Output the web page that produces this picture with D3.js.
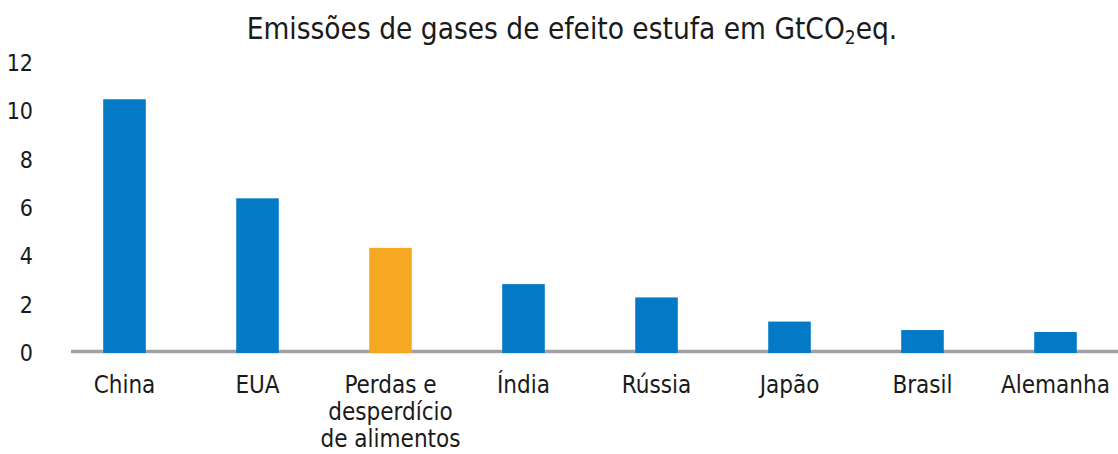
<!DOCTYPE html>
<html>
<head>
<meta charset="utf-8">
<script src="https://cdn.jsdelivr.net/npm/d3@7"></script>
<style>
  body { margin: 0; background: #fff; }
  text { font-family: "DejaVu Sans Condensed", "Liberation Sans Narrow", sans-serif; fill: #1a1a1a; }
</style>
</head>
<body>
<div id="chartContainer"></div>
<script>
var categories = ["China", "EUA", "Perdas e|desperdício|de alimentos", "Índia", "Rússia", "Japão", "Brasil", "Alemanha"];
var values = [10.5, 6.4, 4.35, 2.85, 2.3, 1.3, 0.95, 0.87];
var highlight = [false, false, true, false, false, false, false, false];
var yTicks = [0, 2, 4, 6, 8, 10, 12];

function drawChart() {
  var W = 1118, H = 454;
  var svg = d3.select("#chartContainer")
    .append("svg")
    .attr("width", W)
    .attr("height", H);

  var x = d3.scaleBand()
    .domain(categories)
    .range([58, 1122])
    .paddingInner(0.68)
    .paddingOuter(0.34);

  var y = d3.scaleLinear()
    .domain([0, 12])
    .range([353, 63]);

  // title
  var title = svg.append("text")
    .attr("x", 572)
    .attr("y", 39)
    .attr("text-anchor", "middle")
    .attr("font-size", "29.5px");
  title.append("tspan").text("Emissões de gases de efeito estufa em GtCO");
  title.append("tspan").attr("font-size", "19px").attr("dy", 5).text("2");
  title.append("tspan").attr("dy", -5).text("eq.");

  // y tick labels (no axis line)
  svg.append("g")
    .selectAll("text")
    .data(yTicks)
    .enter()
    .append("text")
    .attr("x", 33)
    .attr("y", function(d) { return y(d); })
    .attr("dy", "0.35em")
    .attr("text-anchor", "end")
    .attr("font-size", "23px")
    .text(function(d) { return d; });

  // baseline
  svg.append("line")
    .attr("x1", 71)
    .attr("x2", W)
    .attr("y1", y(0) - 1.5)
    .attr("y2", y(0) - 1.5)
    .attr("stroke", "#a0a0a6")
    .attr("stroke-width", 3.5);

  // bars
  svg.selectAll(".bar")
    .data(values)
    .enter()
    .append("rect")
    .attr("class", "bar")
    .attr("x", function(d, i) { return x(categories[i]); })
    .attr("y", function(d) { return y(d); })
    .attr("width", x.bandwidth())
    .attr("height", function(d) { return y(0) - y(d); })
    .attr("fill", function(d, i) { return highlight[i] ? "#f7a823" : "#0479c5"; });

  // category labels
  var lab = svg.append("g")
    .selectAll("text")
    .data(categories)
    .enter()
    .append("text")
    .attr("text-anchor", "middle")
    .attr("font-size", "24px")
    .attr("x", function(d) { return x(d) + x.bandwidth() / 2; });

  lab.each(function(d) {
    var t = d3.select(this);
    var cx = x(d) + x.bandwidth() / 2;
    d.split("|").forEach(function(line, j) {
      t.append("tspan")
        .attr("x", cx)
        .attr("y", 393 + j * 27)
        .text(line);
    });
  });
}

drawChart();
</script>
</body>
</html>
